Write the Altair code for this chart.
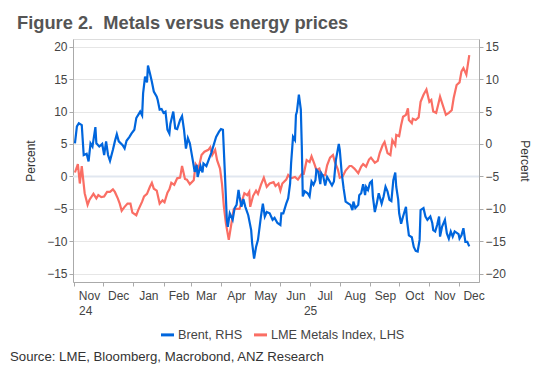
import altair as alt
import pandas as pd

FONT = "Liberation Sans"
BLUE = "#0066dd"
RED = "#fa6e64"

title_text = "Figure 2.\u00a0 Metals versus energy prices"
source_text = "Source: LME, Bloomberg, Macrobond, ANZ Research"
series_names = ["Brent, RHS", "LME Metals Index, LHS"]

lme_dates = [
    "2024-11-02", "2024-11-05", "2024-11-07", "2024-11-09", "2024-11-12", "2024-11-15", "2024-11-17",
    "2024-11-21", "2024-11-24", "2024-11-26", "2024-11-29", "2024-12-02", "2024-12-05", "2024-12-08",
    "2024-12-11", "2024-12-13", "2024-12-16", "2024-12-18", "2024-12-20", "2024-12-23", "2024-12-26",
    "2024-12-29", "2024-12-31", "2025-01-04", "2025-01-06", "2025-01-10", "2025-01-12", "2025-01-15",
    "2025-01-18", "2025-01-20", "2025-01-22", "2025-01-25", "2025-01-28", "2025-01-31", "2025-02-02",
    "2025-02-05", "2025-02-07", "2025-02-09", "2025-02-12", "2025-02-15", "2025-02-18", "2025-02-20",
    "2025-02-23", "2025-02-25", "2025-02-28", "2025-03-04", "2025-03-06", "2025-03-09", "2025-03-12",
    "2025-03-15", "2025-03-19", "2025-03-21", "2025-03-23", "2025-03-26", "2025-03-28", "2025-03-31",
    "2025-04-02", "2025-04-04", "2025-04-06", "2025-04-09", "2025-04-12", "2025-04-14", "2025-04-17",
    "2025-04-20", "2025-04-23", "2025-04-25", "2025-04-28", "2025-04-30", "2025-05-01", "2025-05-04",
    "2025-05-07", "2025-05-09", "2025-05-12", "2025-05-15", "2025-05-18", "2025-05-21", "2025-05-25",
    "2025-05-27", "2025-05-30", "2025-06-01", "2025-06-03", "2025-06-07", "2025-06-09", "2025-06-12",
    "2025-06-16", "2025-06-19", "2025-06-23", "2025-06-25", "2025-06-28", "2025-07-01", "2025-07-03",
    "2025-07-06", "2025-07-08", "2025-07-11", "2025-07-13", "2025-07-17", "2025-07-19", "2025-07-22",
    "2025-07-25", "2025-07-27", "2025-07-30", "2025-08-01", "2025-08-04", "2025-08-07", "2025-08-11",
    "2025-08-13", "2025-08-16", "2025-08-20", "2025-08-23", "2025-08-25", "2025-08-28", "2025-08-31",
    "2025-09-02", "2025-09-06", "2025-09-09", "2025-09-11", "2025-09-14", "2025-09-16", "2025-09-19",
    "2025-09-22", "2025-09-24", "2025-09-27", "2025-09-28", "2025-10-01", "2025-10-03", "2025-10-05",
    "2025-10-08", "2025-10-10", "2025-10-11", "2025-10-14", "2025-10-15", "2025-10-18", "2025-10-21",
    "2025-10-23", "2025-10-26", "2025-10-29", "2025-11-01", "2025-11-03", "2025-11-05", "2025-11-08",
    "2025-11-10", "2025-11-12", "2025-11-15", "2025-11-18", "2025-11-21", "2025-11-24", "2025-11-26",
    "2025-11-29", "2025-12-02", "2025-12-04", "2025-12-06", "2025-12-09", "2025-12-10", "2025-12-12",
]
lme_values = [
    0.6, 1.9, -1.1, 1.6, -2.6, -4.4, -3.6,
    -2.7, -3.4, -2.9, -3.2, -3.1, -2.4, -2.4,
    -2.0, -2.4, -3.4, -4.2, -5.3, -4.7, -4.2,
    -4.2, -5.6, -6.0, -5.2, -3.9, -3.1, -2.7,
    -1.6, -1.0, -1.9, -2.2, -4.2, -3.7, -4.0,
    -2.5, -2.0, -1.0, -1.3, -0.3, -0.2, 1.6,
    -0.4, -0.5, -1.2, -0.6, 1.9, 1.2, 3.3,
    3.8, 4.1, 4.5, 3.3, 4.1, 2.5, 1.2,
    -1.1, -4.7, -7.2, -9.8, -7.0, -5.1, -5.0,
    -5.0, -3.6, -2.6, -2.9, -2.4, -4.7, -3.0,
    -2.2, -2.7, -1.3, -0.2, -1.6, -1.1, -0.9,
    -1.5, -1.1, -2.2, -1.1, -0.5, 0.2, -0.3,
    -0.1, -0.5, 0.4, 0.4, 2.5, 2.2, 3.1,
    1.9, 1.0, 1.2, 0.2, 0.2, 1.7, 2.9,
    3.3, 2.2, 1.1, -0.2, 0.0, 0.9, 1.6,
    1.6, 1.2, 0.5, 1.5, 1.9, 1.5, 2.6,
    2.9, 2.1, 2.4, 3.6, 4.8, 5.3, 3.6,
    3.3, 5.6, 4.8, 6.4, 6.2, 7.9, 9.2,
    9.5, 10.5, 8.7, 8.2, 8.9, 8.7, 9.1,
    11.5, 12.6, 13.4, 11.5, 11.8, 10.0, 9.8,
    11.0, 12.3, 10.9, 9.5, 9.8, 10.2, 12.1,
    14.1, 14.5, 16.2, 16.7, 15.7, 16.7, 18.7,
]

brent_dates = [
    "2024-11-02", "2024-11-04", "2024-11-06", "2024-11-09", "2024-11-11", "2024-11-14", "2024-11-16",
    "2024-11-18", "2024-11-20", "2024-11-23", "2024-11-24", "2024-11-27", "2024-11-30", "2024-12-02",
    "2024-12-04", "2024-12-06", "2024-12-08", "2024-12-11", "2024-12-13", "2024-12-15", "2024-12-17",
    "2024-12-21", "2024-12-23", "2024-12-25", "2024-12-28", "2024-12-30", "2025-01-02", "2025-01-04",
    "2025-01-06", "2025-01-08", "2025-01-10", "2025-01-11", "2025-01-13", "2025-01-15", "2025-01-16",
    "2025-01-18", "2025-01-20", "2025-01-22", "2025-01-25", "2025-01-26", "2025-01-28", "2025-01-30",
    "2025-02-01", "2025-02-03", "2025-02-05", "2025-02-07", "2025-02-08", "2025-02-11", "2025-02-13",
    "2025-02-15", "2025-02-18", "2025-02-20", "2025-02-22", "2025-02-24", "2025-02-26", "2025-02-28",
    "2025-03-03", "2025-03-05", "2025-03-07", "2025-03-08", "2025-03-11", "2025-03-13", "2025-03-14",
    "2025-03-17", "2025-03-20", "2025-03-22", "2025-03-25", "2025-03-27", "2025-03-30", "2025-04-01",
    "2025-04-03", "2025-04-05", "2025-04-07", "2025-04-08", "2025-04-10", "2025-04-13", "2025-04-15",
    "2025-04-17", "2025-04-19", "2025-04-20", "2025-04-22", "2025-04-24", "2025-04-26", "2025-04-29",
    "2025-05-02", "2025-05-03", "2025-05-05", "2025-05-07", "2025-05-09", "2025-05-12", "2025-05-14",
    "2025-05-16", "2025-05-18", "2025-05-21", "2025-05-24", "2025-05-26", "2025-05-29", "2025-06-01",
    "2025-06-02", "2025-06-04", "2025-06-07", "2025-06-09", "2025-06-11", "2025-06-12", "2025-06-14",
    "2025-06-16", "2025-06-17", "2025-06-18", "2025-06-20", "2025-06-22", "2025-06-23", "2025-06-24",
    "2025-06-26", "2025-06-29", "2025-07-01", "2025-07-03", "2025-07-05", "2025-07-07", "2025-07-08",
    "2025-07-10", "2025-07-12", "2025-07-13", "2025-07-15", "2025-07-17", "2025-07-19", "2025-07-21",
    "2025-07-24", "2025-07-26", "2025-07-28", "2025-07-31", "2025-08-01", "2025-08-03", "2025-08-05",
    "2025-08-07", "2025-08-10", "2025-08-12", "2025-08-14", "2025-08-15", "2025-08-17", "2025-08-20",
    "2025-08-21", "2025-08-23", "2025-08-25", "2025-08-27", "2025-08-28", "2025-08-30", "2025-09-01",
    "2025-09-03", "2025-09-04", "2025-09-06", "2025-09-08", "2025-09-10", "2025-09-13", "2025-09-15",
    "2025-09-17", "2025-09-19", "2025-09-21", "2025-09-23", "2025-09-25", "2025-09-27", "2025-09-28",
    "2025-09-30", "2025-10-01", "2025-10-03", "2025-10-05", "2025-10-08", "2025-10-09", "2025-10-11",
    "2025-10-14", "2025-10-16", "2025-10-18", "2025-10-20", "2025-10-22", "2025-10-23", "2025-10-26",
    "2025-10-28", "2025-10-30", "2025-11-02", "2025-11-04", "2025-11-05", "2025-11-07", "2025-11-09",
    "2025-11-11", "2025-11-12", "2025-11-14", "2025-11-17", "2025-11-19", "2025-11-21", "2025-11-23",
    "2025-11-25", "2025-11-27", "2025-12-01", "2025-12-02", "2025-12-04", "2025-12-06", "2025-12-08",
    "2025-12-10", "2025-12-12",
]
brent_values = [
    0.1, 2.7, 3.2, 2.9, -1.7, -1.5, -2.7,
    0.1, -0.4, 2.6, 0.1, -0.4, 0.0, -1.7,
    0.4, -1.7, -2.6, -0.9, 0.4, 1.5, 0.4,
    -0.2, -0.7, 0.5, 1.1, 1.6, 2.2, 4.0,
    4.5, 5.0, 4.4, 7.8, 10.4, 9.5, 12.1,
    10.9, 9.6, 8.1, 7.3, 6.8, 5.3, 5.4,
    4.8, 5.0, 2.2, 1.6, 3.1, 5.0, 2.4,
    2.3, 3.7, 4.3, 2.2, -0.7, 0.9, 0.1,
    -2.5, -4.3, -3.2, -5.1, -3.4, -4.4, -3.0,
    -3.4, -2.2, -1.4, 0.1, 1.1, 1.9, 2.3,
    2.2, -4.5, -11.7, -12.8, -10.7, -11.7, -9.9,
    -9.4, -7.1, -8.1, -9.7, -8.5, -9.7, -11.0,
    -13.3, -15.3, -17.7, -15.9, -14.8, -11.2, -9.2,
    -11.2, -10.5, -10.7, -11.7, -11.4, -12.2, -12.5,
    -10.7, -10.7, -9.2, -8.4, -6.1, -3.0, 1.1,
    0.6, 4.5, 5.0, 7.6, 5.3, -0.4, -8.1,
    -7.3, -7.6, -8.1, -5.8, -6.3, -5.6, -4.0,
    -4.3, -6.2, -4.5, -5.0, -6.4, -5.1, -5.6,
    -6.4, -5.8, -2.5, 0.0, -0.9, -4.5, -6.9,
    -8.9, -9.2, -9.4, -10.2, -8.9, -9.9, -9.4,
    -7.9, -7.6, -6.2, -7.9, -6.6, -7.1, -6.0,
    -5.7, -8.1, -10.5, -9.2, -7.6, -9.2, -8.1,
    -6.6, -7.3, -8.6, -8.8, -5.6, -4.4, -6.6,
    -8.6, -10.7, -12.3, -11.2, -9.7, -11.7, -14.1,
    -14.4, -15.9, -16.5, -16.6, -14.8, -10.2, -9.9,
    -11.2, -11.7, -11.2, -12.2, -13.3, -13.5, -12.5,
    -11.2, -14.3, -12.8, -11.7, -13.8, -14.6, -13.5,
    -14.3, -13.5, -13.9, -14.6, -14.1, -13.0, -15.1,
    -15.1, -15.8,
]

left_ticks = [-15, -10, -5, 0, 5, 10, 15, 20]
right_ticks = [-20, -15, -10, -5, 0, 5, 10, 15]
left_domain = [-16.3, 21.2]
right_domain = [-21.3, 16.2]
year_dates = ["2024-11-13", "2025-07-02"]
year_labels = ["24", "25"]

W, H = 406, 243

lme_df = pd.DataFrame({"date": lme_dates, "value": lme_values, "series": series_names[1]})
brent_df = pd.DataFrame({"date": brent_dates, "value": brent_values, "series": series_names[0]})
year_df = pd.DataFrame({"date": year_dates, "label": year_labels})
source_df = pd.DataFrame({"t": [source_text]})
zero_df = pd.DataFrame({"v": [0]})

xscale = alt.Scale(domain=[alt.DateTime(year=2024, month=10, date=31),
                           alt.DateTime(year=2025, month=12, date=22)])
xaxis = alt.Axis(
    title=None, format="%b", tickCount={"interval": "month", "step": 1},
    labelOffset=15, labelAlign="center", labelFlush=False, labelOverlap=False,
    labelFont=FONT, labelFontSize=12, labelColor="#444444", labelPadding=4,
    tickSize=4, tickColor="#aaaaaa", domainColor="#aaaaaa", grid=False,
)
color = alt.Color(
    "series:N",
    scale=alt.Scale(domain=series_names, range=[BLUE, RED]),
    legend=alt.Legend(
        title=None, orient="none", direction="horizontal", legendX=86, legendY=287,
        symbolType="stroke", symbolSize=170, symbolStrokeWidth=3, labelFont=FONT,
        labelFontSize=12.7, labelColor="#444444", columnPadding=4, labelOffset=2, padding=0,
    ),
)

zero = alt.Chart(zero_df).mark_rule(color="#e1e7f0", strokeWidth=2).encode(
    y=alt.Y("v:Q", scale=alt.Scale(domain=left_domain), axis=None)
)

lme_line = alt.Chart(lme_df).mark_line(strokeWidth=2.2, interpolate="linear").encode(
    x=alt.X("date:T", scale=xscale, axis=xaxis),
    y=alt.Y("value:Q", scale=alt.Scale(domain=left_domain, nice=False, zero=False),
            axis=alt.Axis(orient="left", values=left_ticks, title="Percent", grid=True,
                          gridColor="#e6e6e6", labelFont=FONT, labelFontSize=12,
                          labelColor="#444444", tickSize=4, tickColor="#aaaaaa",
                          domainColor="#aaaaaa", labelPadding=2, titleFont=FONT,
                          titleFontSize=12, titleFontWeight="normal", titleColor="#333333",
                          titlePadding=9)),
    color=color,
)

brent_line = alt.Chart(brent_df).mark_line(strokeWidth=2.2, interpolate="linear").encode(
    x=alt.X("date:T", scale=xscale),
    y=alt.Y("value:Q", scale=alt.Scale(domain=right_domain, nice=False, zero=False),
            axis=alt.Axis(orient="right", values=right_ticks, title="Percent", grid=False,
                          labelFont=FONT, labelFontSize=12, labelColor="#444444",
                          tickSize=4, tickColor="#aaaaaa", domainColor="#aaaaaa",
                          labelPadding=2, titleFont=FONT, titleFontSize=12,
                          titleFontWeight="normal", titleColor="#333333", titlePadding=12)),
    color=color,
)

years = alt.Chart(year_df).mark_text(font=FONT, fontSize=12, color="#444444", baseline="middle").encode(
    x=alt.X("date:T", scale=xscale),
    y=alt.value(H + 29),
    text="label:N",
)

source = alt.Chart(source_df).mark_text(font=FONT, fontSize=13.2, color="#333333", align="left",
                                         baseline="middle").encode(
    x=alt.value(-63), y=alt.value(318), text="t:N"
)

chart = alt.layer(zero, lme_line, brent_line, years, source).resolve_scale(
    y="independent"
).properties(
    width=W, height=H,
    title=alt.Title(title_text, anchor="start", frame="group", dx=-56, offset=6, font=FONT,
                    fontSize=18.3, fontWeight="bold", color="#555555"),
    padding={"left": 73, "top": 39, "right": 61, "bottom": 93},
    autosize=alt.AutoSizeParams(type="none"),
).configure_view(stroke=None).configure(background="white")

chart.save("out.html", embed_options={"renderer": "svg", "actions": False})
